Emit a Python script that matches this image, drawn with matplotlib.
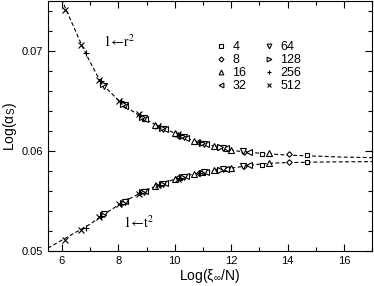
import matplotlib
matplotlib.use("Agg")
import matplotlib.pyplot as plt
from matplotlib.ticker import MultipleLocator

plt.rcParams["font.family"] = ["Liberation Sans", "DejaVu Sans"]
plt.rcParams["mathtext.fontset"] = "stix"

# fitted curves (dashed)
fit_x_up = [5.9, 6.0, 6.2, 6.5, 6.7, 7.0, 7.3, 7.5, 8.0, 8.5, 9.0, 9.5, 10.0,
            10.5, 11.0, 11.5, 12.0, 12.5, 13.0, 13.5, 14.0, 14.5, 15.0, 16.0, 17.0]
fit_up = [0.0760, 0.0751, 0.0738, 0.0719, 0.0706, 0.0689, 0.0673, 0.0665, 0.0651,
          0.0640, 0.0631, 0.0624, 0.0618, 0.0612, 0.0608, 0.0604, 0.0601, 0.0599,
          0.0598, 0.0597, 0.0596, 0.05955, 0.0595, 0.0594, 0.05935]
fit_x_low = [5.5, 6.0, 6.5, 7.0, 7.5, 8.0, 8.5, 9.0, 9.5, 10.0, 10.5, 11.0, 11.5,
             12.0, 12.5, 13.0, 13.5, 14.0, 15.0, 16.0, 17.0]
fit_low = [0.0503, 0.0511, 0.0519, 0.0527, 0.0537, 0.0546, 0.0554, 0.0561, 0.0567,
           0.0572, 0.0576, 0.0579, 0.0581, 0.0583, 0.0585, 0.0587, 0.0588, 0.05885,
           0.0589, 0.05893, 0.05895]

# data per N: x, upper (r^2) and lower (t^2) values
labels = ["4", "8", "16", "32", "64", "128", "256", "512"]
markers = ["s", "D", "^", "<", "v", ">", "+", "x"]

x_4 = [8.90, 10.20, 11.00, 11.80, 13.10, 14.70]
up_4 = [0.0632, 0.0615, 0.0608, 0.0602, 0.0597, 0.0596]
low_4 = [0.0560, 0.0573, 0.0578, 0.0582, 0.0586, 0.0589]

x_8 = [10.10, 10.85, 11.55, 12.45, 14.05]
up_8 = [0.0616, 0.0609, 0.0604, 0.0599, 0.0597]
low_8 = [0.0573, 0.0578, 0.0581, 0.0585, 0.0589]

x_16 = [9.30, 10.00, 10.70, 11.40, 12.00, 13.35]
up_16 = [0.0626, 0.0618, 0.0610, 0.0605, 0.0601, 0.0598]
low_16 = [0.0565, 0.0572, 0.0577, 0.0581, 0.0583, 0.0588]

x_32 = [8.25, 8.95, 9.65, 10.40, 11.10, 11.80, 12.62]
up_32 = [0.0645, 0.0632, 0.0622, 0.0613, 0.0607, 0.0603, 0.0599]
low_32 = [0.0550, 0.0560, 0.0568, 0.0575, 0.0579, 0.0582, 0.0586]

x_64 = [7.50, 8.22, 8.92, 9.60, 10.32, 11.02, 11.72, 12.42]
up_64 = [0.0665, 0.0646, 0.0633, 0.0622, 0.0614, 0.0607, 0.0603, 0.0600]
low_64 = [0.0537, 0.0549, 0.0559, 0.0567, 0.0574, 0.0579, 0.0582, 0.0585]

x_128 = [7.45, 8.15, 8.85, 9.55, 10.25, 10.95, 11.62]
up_128 = [0.0667, 0.0647, 0.0634, 0.0623, 0.0615, 0.0608, 0.0604]
low_128 = [0.0536, 0.0548, 0.0559, 0.0567, 0.0574, 0.0578, 0.0581]

x_256 = [6.84, 7.38, 8.08, 8.78, 9.48, 10.18, 10.88]
up_256 = [0.0698, 0.0670, 0.0650, 0.0636, 0.0625, 0.0616, 0.0609]
low_256 = [0.0523, 0.0535, 0.0547, 0.0558, 0.0566, 0.0573, 0.0578]

x_512 = [6.12, 6.68, 7.33, 8.03, 8.72, 9.42, 10.12]
up_512 = [0.0741, 0.0706, 0.0671, 0.0650, 0.0637, 0.0625, 0.0617]
low_512 = [0.0511, 0.0521, 0.0534, 0.0547, 0.0557, 0.0566, 0.0572]

series = [(x_4, up_4, low_4), (x_8, up_8, low_8), (x_16, up_16, low_16),
          (x_32, up_32, low_32), (x_64, up_64, low_64), (x_128, up_128, low_128),
          (x_256, up_256, low_256), (x_512, up_512, low_512)]

fig = plt.figure(figsize=(3.74, 2.86), dpi=100)
ax = fig.add_axes([0.128, 0.122, 0.867, 0.874])

ax.plot(fit_x_up, fit_up, color="black", lw=0.8, dashes=(3.5, 2.2), zorder=1)
ax.plot(fit_x_low, fit_low, color="black", lw=0.8, dashes=(3.5, 2.2), zorder=1)

for (xs, ups, lows), m, lab in zip(series, markers, labels):
    ms = 3.8
    if m == "s":
        ms = 3.2
    if m == "D":
        ms = 2.8
    kw = dict(linestyle="none", marker=m, ms=ms, mec="black", mfc="white",
              mew=0.8, zorder=2)
    ax.plot(xs, ups, label=lab, **kw)
    ax.plot(xs, lows, **kw)

ax.text(7.44, 0.0709, r"$\mathrm{1\!\leftarrow\! r^{2}}$", fontsize=10,
        va="center", ha="left")
ax.text(8.18, 0.0528, r"$\mathrm{1\!\leftarrow\! t^{2}}$", fontsize=10,
        va="center", ha="left")

ax.set_xlim(5.5, 17)
ax.set_ylim(0.05, 0.075)
ax.xaxis.set_major_locator(MultipleLocator(2))
ax.xaxis.set_minor_locator(MultipleLocator(1))
ax.yaxis.set_major_locator(MultipleLocator(0.01))
ax.yaxis.set_minor_locator(MultipleLocator(0.002))
ax.tick_params(which="both", direction="in", top=True, right=True,
               labelsize=8, width=0.8)
ax.tick_params(which="major", length=5)
ax.tick_params(which="minor", length=3)
for sp in ax.spines.values():
    sp.set_linewidth(0.8)

ax.set_xlabel(r"Log(ξ$_\mathregular{∞}$/N)", fontsize=10, labelpad=1)
ax.set_ylabel(r"Log(α$_\mathregular{S}$)", fontsize=10, labelpad=2)

ax.legend(ncol=2, loc="upper left", bbox_to_anchor=(0.496, 0.866),
          frameon=False, fontsize=9, handlelength=1.0, handletextpad=0.4,
          columnspacing=1.3, labelspacing=0.08, borderpad=0, markerscale=0.9)

fig.savefig("out.png", dpi=100)
